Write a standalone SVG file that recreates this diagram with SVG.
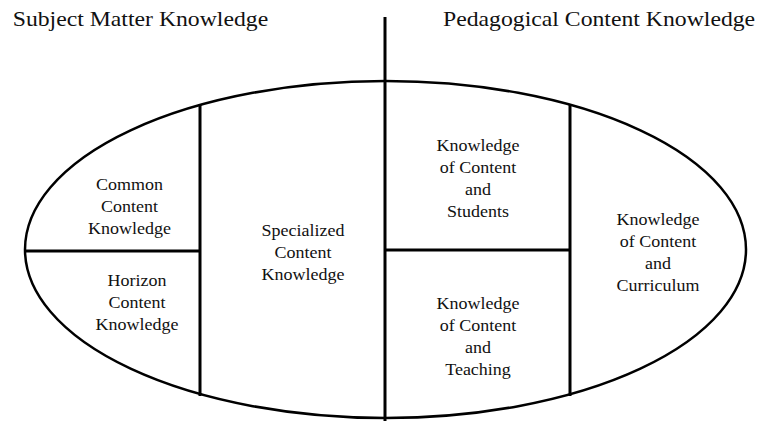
<svg xmlns="http://www.w3.org/2000/svg" width="762" height="421" viewBox="0 0 762 421">
<style>
  .ln { stroke: #000; stroke-width: 3; fill: none; }
  .el { stroke: #000; stroke-width: 2.5; fill: #fff; }
  text { font-family: 'Liberation Serif', 'Times New Roman', serif; fill: #111; }
  .lbl { font-size: 16px; text-anchor: middle; }
  .title { font-size: 21px; }
</style>
<rect width="762" height="421" fill="#fff"/>
<g id="ellipse">
  <ellipse class="el" cx="385.5" cy="249.5" rx="360.5" ry="168.5"/>
</g>
<g id="connectors">
  <line class="ln" x1="385" y1="17" x2="385" y2="421"/>
  <line class="ln" x1="200" y1="104" x2="200" y2="396"/>
  <line class="ln" x1="570" y1="104" x2="570" y2="396"/>
  <line class="ln" x1="25" y1="251" x2="200" y2="251"/>
  <line class="ln" x1="385" y1="250" x2="570" y2="250"/>
</g>
<g id="title-smk" transform="translate(12.7,0) scale(1.13,1)">
  <text class="title" x="0" y="26">Subject Matter Knowledge</text>
</g>
<g id="title-pck" transform="translate(443,0) scale(1.13,1)">
  <text class="title" x="0" y="26">Pedagogical Content Knowledge</text>
</g>
<g id="cck" transform="translate(129.5,0) scale(1.125,1)">
  <text class="lbl" x="0" y="190">Common</text>
  <text class="lbl" x="0" y="212">Content</text>
  <text class="lbl" x="0" y="234">Knowledge</text>
</g>
<g id="hck" transform="translate(137,0) scale(1.125,1)">
  <text class="lbl" x="0" y="286">Horizon</text>
  <text class="lbl" x="0" y="308">Content</text>
  <text class="lbl" x="0" y="330">Knowledge</text>
</g>
<g id="sck" transform="translate(303,0) scale(1.125,1)">
  <text class="lbl" x="0" y="236">Specialized</text>
  <text class="lbl" x="0" y="258">Content</text>
  <text class="lbl" x="0" y="280">Knowledge</text>
</g>
<g id="kcs" transform="translate(478,0) scale(1.125,1)">
  <text class="lbl" x="0" y="151">Knowledge</text>
  <text class="lbl" x="0" y="173">of Content</text>
  <text class="lbl" x="0" y="195">and</text>
  <text class="lbl" x="0" y="217">Students</text>
</g>
<g id="kct" transform="translate(478,0) scale(1.125,1)">
  <text class="lbl" x="0" y="309">Knowledge</text>
  <text class="lbl" x="0" y="331">of Content</text>
  <text class="lbl" x="0" y="353">and</text>
  <text class="lbl" x="0" y="375">Teaching</text>
</g>
<g id="kcc" transform="translate(658,0) scale(1.125,1)">
  <text class="lbl" x="0" y="225">Knowledge</text>
  <text class="lbl" x="0" y="247">of Content</text>
  <text class="lbl" x="0" y="269">and</text>
  <text class="lbl" x="0" y="291">Curriculum</text>
</g>
</svg>
